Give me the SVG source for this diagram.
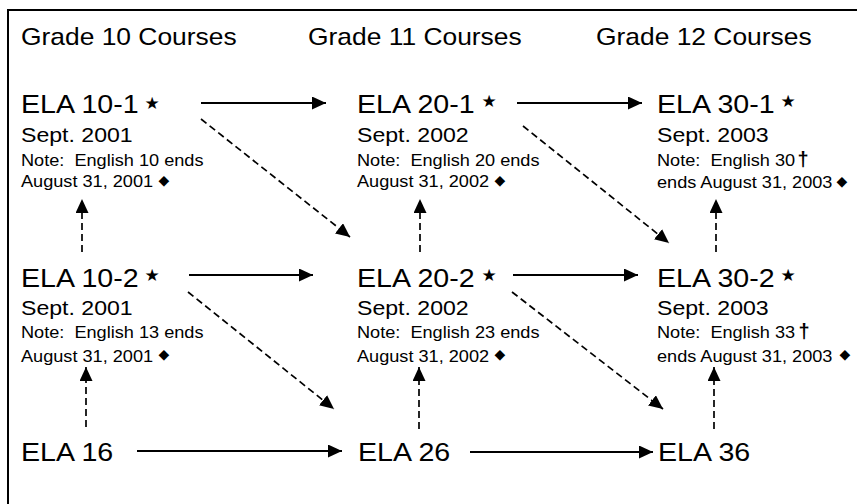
<svg xmlns="http://www.w3.org/2000/svg" width="857" height="504" viewBox="0 0 857 504">
<style>
text{font-family:"Liberation Sans",Arial,sans-serif;fill:#000;white-space:pre}
.h{font-size:24px}
.c{font-size:26px}
.d{font-size:21px}
.n{font-size:16.5px}
.sym{font-family:"DejaVu Sans",sans-serif;text-anchor:middle}
.st{font-size:17px}
.dm{font-size:14px}
.dg{font-size:20px;font-family:"Liberation Sans",sans-serif;font-weight:bold;text-anchor:middle}
.sl{stroke:#000;stroke-width:2;fill:none}
.ds{stroke:#000;stroke-width:1.7;fill:none;stroke-dasharray:7 4}
</style>
<defs>
<marker id="ah" markerWidth="14" markerHeight="13" refX="14" refY="6.5" orient="auto" markerUnits="userSpaceOnUse">
<path d="M0,0 L14,6.5 L0,13 z" fill="#000"/>
</marker>
</defs>
<rect x="0" y="0" width="857" height="504" fill="#fff"/>
<rect x="8" y="10" width="900" height="600" fill="none" stroke="#000" stroke-width="2"/>

<g id="headers">
<text class="h" transform="translate(21,45) scale(1.1,1)">Grade 10 Courses</text>
<text class="h" transform="translate(308,45) scale(1.1,1)">Grade 11 Courses</text>
<text class="h" transform="translate(596,45) scale(1.1,1)">Grade 12 Courses</text>
</g>

<g id="ela-10-1">
<text class="c" transform="translate(21,113) scale(1.1,1)">ELA 10-1</text>
<text class="sym st" x="152" y="109">★</text>
<text class="d" transform="translate(21,142) scale(1.1,1)">Sept. 2001</text>
<text class="n" transform="translate(21,166) scale(1.1,1)">Note:  English 10 ends</text>
<text class="n" transform="translate(21,187) scale(1.1,1)">August 31, 2001</text>
<text class="sym dm" x="164" y="185">◆</text>
</g>

<g id="ela-20-1">
<text class="c" transform="translate(357,113) scale(1.1,1)">ELA 20-1</text>
<text class="sym st" x="489" y="107">★</text>
<text class="d" transform="translate(357,142) scale(1.1,1)">Sept. 2002</text>
<text class="n" transform="translate(357,166) scale(1.1,1)">Note:  English 20 ends</text>
<text class="n" transform="translate(357,187) scale(1.1,1)">August 31, 2002</text>
<text class="sym dm" x="500" y="185">◆</text>
</g>

<g id="ela-30-1">
<text class="c" transform="translate(657,113) scale(1.1,1)">ELA 30-1</text>
<text class="sym st" x="788" y="107">★</text>
<text class="d" transform="translate(657,142) scale(1.1,1)">Sept. 2003</text>
<text class="n" transform="translate(657,166) scale(1.1,1)">Note:  English 30</text>
<text class="dg" x="803" y="166">†</text>
<text class="n" transform="translate(657,188) scale(1.1,1)">ends August 31, 2003</text>
<text class="sym dm" x="842" y="186">◆</text>
</g>

<g id="ela-10-2">
<text class="c" transform="translate(21,287) scale(1.1,1)">ELA 10-2</text>
<text class="sym st" x="152" y="281">★</text>
<text class="d" transform="translate(21,315) scale(1.1,1)">Sept. 2001</text>
<text class="n" transform="translate(21,338) scale(1.1,1)">Note:  English 13 ends</text>
<text class="n" transform="translate(21,362) scale(1.1,1)">August 31, 2001</text>
<text class="sym dm" x="164" y="359">◆</text>
</g>

<g id="ela-20-2">
<text class="c" transform="translate(357,287) scale(1.1,1)">ELA 20-2</text>
<text class="sym st" x="489" y="281">★</text>
<text class="d" transform="translate(357,315) scale(1.1,1)">Sept. 2002</text>
<text class="n" transform="translate(357,338) scale(1.1,1)">Note:  English 23 ends</text>
<text class="n" transform="translate(357,362) scale(1.1,1)">August 31, 2002</text>
<text class="sym dm" x="500" y="359">◆</text>
</g>

<g id="ela-30-2">
<text class="c" transform="translate(657,287) scale(1.1,1)">ELA 30-2</text>
<text class="sym st" x="788" y="281">★</text>
<text class="d" transform="translate(657,315) scale(1.1,1)">Sept. 2003</text>
<text class="n" transform="translate(657,338) scale(1.1,1)">Note:  English 33</text>
<text class="dg" x="804" y="338">†</text>
<text class="n" transform="translate(657,362) scale(1.1,1)">ends August 31, 2003</text>
<text class="sym dm" x="845" y="359">◆</text>
</g>

<g id="ela-16">
<text class="c" transform="translate(21,461) scale(1.1,1)">ELA 16</text>
</g>
<g id="ela-26">
<text class="c" transform="translate(358,461) scale(1.1,1)">ELA 26</text>
</g>
<g id="ela-36">
<text class="c" transform="translate(658,461) scale(1.1,1)">ELA 36</text>
</g>

<g id="connectors">
<line class="sl" x1="201" y1="103" x2="326" y2="103" marker-end="url(#ah)"/>
<line class="sl" x1="517" y1="103" x2="642" y2="103" marker-end="url(#ah)"/>
<line class="sl" x1="189" y1="275" x2="313" y2="275" marker-end="url(#ah)"/>
<line class="sl" x1="513" y1="275" x2="638" y2="275" marker-end="url(#ah)"/>
<line class="sl" x1="137" y1="451" x2="342" y2="451" marker-end="url(#ah)"/>
<line class="sl" x1="470" y1="452" x2="653" y2="452" marker-end="url(#ah)"/>

<line class="ds" x1="201" y1="119" x2="350" y2="237" marker-end="url(#ah)"/>
<line class="ds" x1="523" y1="126" x2="669" y2="243" marker-end="url(#ah)"/>
<line class="ds" x1="188" y1="292" x2="334" y2="409" marker-end="url(#ah)"/>
<line class="ds" x1="512" y1="292" x2="663" y2="409" marker-end="url(#ah)"/>

<line class="ds" x1="82" y1="252" x2="82" y2="199" marker-end="url(#ah)"/>
<line class="ds" x1="86" y1="427" x2="86" y2="367" marker-end="url(#ah)"/>
<line class="ds" x1="420" y1="252" x2="420" y2="199" marker-end="url(#ah)"/>
<line class="ds" x1="419" y1="429" x2="419" y2="367" marker-end="url(#ah)"/>
<line class="ds" x1="716" y1="252" x2="716" y2="199" marker-end="url(#ah)"/>
<line class="ds" x1="714" y1="429" x2="714" y2="367" marker-end="url(#ah)"/>
</g>
</svg>
